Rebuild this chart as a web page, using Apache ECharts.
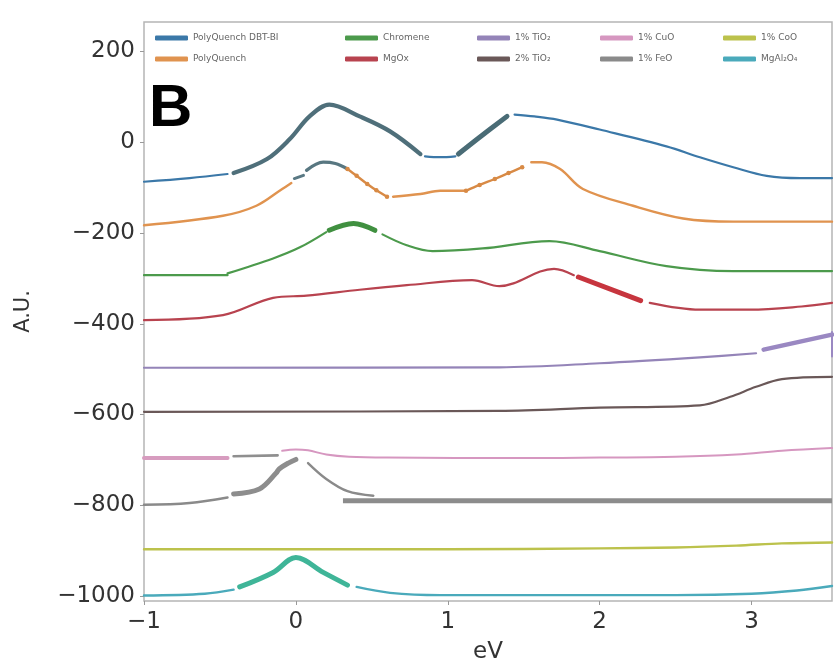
<!DOCTYPE html>
<html>
<head>
<meta charset="utf-8">
<script src="https://cdn.jsdelivr.net/npm/echarts@6/dist/echarts.min.js"></script>
<style>
  html, body { margin: 0; padding: 0; background: #fff; }
  #chart { width: 834px; height: 669px; }
</style>
</head>
<body>
<div id="chart"></div>
<script>
// Offset spectra, energy (eV) against arbitrary units. null marks a break in a trace.
const xTicks = [-1, 0, 1, 2, 3];
const yTicks = [-1000, -800, -600, -400, -200, 0, 200];

const seriesNames = [
  'PolyQuench DBT-BI', 'PolyQuench', 'Chromene', 'MgOx', '1% TiO₂',
  '2% TiO₂', '1% CuO', '1% FeO', '1% CoO', 'MgAl₂O₄'
];

// --- PolyQuench DBT-BI
const polyDbt = [[-1.0, -87], [-0.7, -79], [-0.45, -70], null,
  [0.85, -31], [0.95, -33], [1.05, -31], null,
  [1.44, 61], [1.57, 57], [1.72, 50], [2.0, 28], [2.44, -9], [2.66, -33], [2.88, -55],
  [3.10, -74], [3.32, -79], [3.53, -79]];
const polyDbtPeak = [[-0.41, -68], [-0.19, -37], [-0.04, 7], [0.09, 57], [0.22, 83],
  [0.42, 57], [0.62, 24], [0.82, -26]];
const polyDbtRise = [[1.07, -26], [1.21, 11], [1.39, 57]];

// --- PolyQuench
const polyQ = [[-1.0, -183], [-0.48, -162], [-0.26, -140], [-0.09, -103], [-0.03, -90], null,
  [0.64, -120], [0.82, -114], [0.95, -107], [1.12, -107], null,
  [1.55, -44], [1.62, -44], [1.74, -59], [1.89, -103], [2.22, -140], [2.55, -168],
  [2.88, -175], [3.53, -175]];
const polyQDash = [[-0.01, -80], [0.05, -73]];
const polyQArc = [[0.07, -62], [0.18, -44], [0.26, -47], [0.34, -59]];
const polyQDotsA = [[0.34, -59], [0.40, -74], [0.47, -92], [0.53, -106], [0.60, -120]];
const polyQDotsB = [[1.12, -107], [1.21, -94], [1.31, -81], [1.40, -68], [1.49, -55]];

// --- Chromene
const chromene = [[-1.0, -293], [-0.45, -293], null,
  [-0.45, -289], [-0.15, -256], [0.03, -231], [0.2, -198], null,
  [0.57, -203], [0.73, -227], [0.9, -240], [1.23, -234], [1.67, -218], [2.0, -240],
  [2.44, -273], [2.88, -284], [3.53, -284]];
const chromenePeak = [[0.22, -194], [0.38, -179], [0.52, -194]];

// --- MgOx
const mgox = [[-1.0, -392], [-0.48, -381], [-0.15, -343], [0.07, -338], [0.42, -325],
  [0.73, -315], [1.16, -304], [1.34, -317], [1.70, -279], [1.83, -293], null,
  [2.33, -354], [2.66, -369], [2.99, -369], [3.33, -362], [3.53, -354]];
const mgoxDrop = [[1.86, -297], [2.27, -349]];

// --- 1% TiO2
const tio1 = [[-1.0, -497], [1.34, -496], [2.0, -487], [2.66, -474], [3.03, -465]];
const tio1Edge = [[3.08, -457], [3.53, -424]];
const tio1Cap = [[3.53, -418], [3.53, -472]];

// --- 2% TiO2
const tio2 = [[-1.0, -594], [1.34, -592], [2.0, -585], [2.66, -580], [2.86, -561],
  [3.03, -539], [3.2, -522], [3.53, -517]];

// --- 1% CuO
const cuo = [[-0.09, -680], [0.0, -677], [0.08, -679], [0.2, -688], [0.35, -693],
  [0.6, -695], [1.5, -696], [2.0, -695], [2.5, -693], [2.9, -688], [3.2, -680], [3.53, -674]];
const cuoLeft = [[-1.0, -696], [-0.45, -696]];

// --- 1% FeO
const feo = [[-1.0, -799], [-0.7, -795], [-0.45, -783], null,
  [0.08, -707], [0.2, -742], [0.34, -769], [0.51, -779]];
const feoPeak = [[-0.41, -775], [-0.24, -764], [-0.13, -729], [-0.11, -720], [-0.05, -707], [0.0, -699]];
const feoDash = [[-0.41, -692], [-0.12, -690]];
const feoFlat = [[0.31, -790], [3.53, -790]];

// --- 1% CoO
const coo = [[-1.0, -897], [1.0, -897], [2.0, -895], [2.5, -893], [2.9, -889],
  [3.2, -884], [3.53, -882]];

// --- MgAl2O4
const mgal = [[-1.0, -999], [-0.6, -995], [-0.41, -986], null,
  [0.4, -980], [0.62, -993], [0.95, -998], [2.5, -998], [3.0, -995], [3.3, -988], [3.53, -978]];
const mgalPeak = [[-0.37, -980], [-0.15, -948], [0.0, -915], [0.18, -948], [0.34, -976]];

const colors = ['#3b78a8', '#e0934f', '#4c9a4c', '#b8434f', '#9484b8',
  '#6a5858', '#d697c0', '#8a8a8a', '#bcc24c', '#4aaabb'];

const toData = arr => arr.map(p => p === null ? [NaN, NaN] : p);

function trace(name, data, color, width, extra) {
  return Object.assign({
    name: name,
    type: 'line',
    data: toData(data),
    smooth: 0.35,
    showSymbol: false,
    symbol: 'none',
    connectNulls: false,
    silent: true,
    lineStyle: { color: color, width: width, cap: 'round', join: 'round' },
    itemStyle: { color: color },
    z: 2
  }, extra || {});
}

const N = seriesNames;
const series = [
  trace(N[0], polyDbt, colors[0], 2.2),
  trace(N[0] + ' peak', polyDbtPeak, '#4f6f7a', 4.2, { z: 3 }),
  trace(N[0] + ' rise', polyDbtRise, '#4a6c76', 5, { z: 3 }),

  trace(N[1], polyQ, colors[1], 2.4),
  trace(N[1] + ' dash', polyQDash, '#5a7984', 3, { z: 3 }),
  trace(N[1] + ' arc', polyQArc, '#587781', 3.2, { z: 3 }),
  trace(N[1] + ' dots a', polyQDotsA, '#d88a45', 2.4,
    { showSymbol: true, symbol: 'circle', symbolSize: 4.5, z: 3 }),
  trace(N[1] + ' dots b', polyQDotsB, '#d88a45', 2.4,
    { showSymbol: true, symbol: 'circle', symbolSize: 4.5, z: 3 }),

  trace(N[2], chromene, colors[2], 2.2),
  trace(N[2] + ' peak', chromenePeak, '#409040', 5, { z: 3 }),

  trace(N[3], mgox, colors[3], 2.2),
  trace(N[3] + ' drop', mgoxDrop, '#c7353e', 5, { z: 3 }),

  trace(N[4], tio1, colors[4], 2.2),
  trace(N[4] + ' edge', tio1Edge, '#9a88c2', 4.5, { z: 3 }),
  trace(N[4] + ' cap', tio1Cap, '#9a88c2', 2, { z: 3, smooth: false }),

  trace(N[5], tio2, colors[5], 2.2),

  trace(N[6], cuo, colors[6], 2),
  trace(N[6] + ' left', cuoLeft, '#d79cbf', 4, { z: 3 }),

  trace(N[7], feo, colors[7], 2.4),
  trace(N[7] + ' peak', feoPeak, '#8d8d8d', 5, { z: 3 }),
  trace(N[7] + ' dash', feoDash, '#8f8f8f', 2.6, { z: 3 }),
  trace(N[7] + ' flat', feoFlat, '#8c8c8c', 5, { z: 3, smooth: false, lineStyle: { color: '#8c8c8c', width: 5, cap: 'butt' } }),

  trace(N[8], coo, colors[8], 2.4),

  trace(N[9], mgal, colors[9], 2.4),
  trace(N[9] + ' peak', mgalPeak, '#3fb598', 5, { z: 3 })
];

// Legend: five columns of two entries each
const legendCols = [[N[0], N[1]], [N[2], N[3]], [N[4], N[5]], [N[6], N[7]], [N[8], N[9]]];
const legendLeft = [150, 340, 472, 595, 718];
const legends = legendCols.map((names, i) => ({
  show: true,
  orient: 'vertical',
  left: legendLeft[i],
  top: 27,
  itemWidth: 33,
  itemHeight: 5,
  itemGap: 9,
  icon: 'roundRect',
  selectedMode: false,
  data: names,
  textStyle: { fontFamily: 'DejaVu Sans', fontSize: 9, color: '#666', lineHeight: 12 }
}));

const chart = echarts.init(document.getElementById('chart'), null, { renderer: 'canvas' });
chart.setOption({
  animation: false,
  backgroundColor: '#ffffff',
  color: colors,
  grid: {
    left: 144, right: 2, top: 22, bottom: 64,
    show: true, borderColor: '#b5b5b5', borderWidth: 1.5, backgroundColor: '#ffffff'
  },
  legend: legends,
  xAxis: {
    type: 'value',
    min: -1,
    max: 3.53,
    name: 'eV',
    nameLocation: 'middle',
    nameGap: 40,
    nameTextStyle: { fontFamily: 'DejaVu Sans', fontSize: 23, color: '#333' },
    axisLine: { show: false, onZero: false },
    splitLine: { show: false },
    axisTick: { show: true, customValues: xTicks, length: 4, lineStyle: { color: '#999' } },
    axisLabel: {
      customValues: xTicks, margin: 10,
      fontFamily: 'DejaVu Sans', fontSize: 23, color: '#333',
      formatter: v => (v < 0 ? '−' + Math.abs(v) : String(v))
    }
  },
  yAxis: {
    type: 'value',
    min: -1011,
    max: 265,
    name: 'A.U.',
    nameLocation: 'middle',
    nameGap: 110,
    nameRotate: 90,
    nameTextStyle: { fontFamily: 'DejaVu Sans', fontSize: 21, color: '#333' },
    axisLine: { show: false, onZero: false },
    splitLine: { show: false },
    axisTick: { show: true, customValues: yTicks, length: 4, lineStyle: { color: '#999' } },
    axisLabel: {
      customValues: yTicks, margin: 9,
      fontFamily: 'DejaVu Sans', fontSize: 23, color: '#333',
      formatter: v => (v < 0 ? '−' + Math.abs(v) : String(v))
    }
  },
  graphic: [{
    type: 'text',
    left: 149,
    top: 79,
    z: 10,
    style: { text: 'B', font: 'bold 60px "Liberation Sans", Arial, sans-serif', fill: '#000' }
  }],
  series: series
});
</script>
</body>
</html>
